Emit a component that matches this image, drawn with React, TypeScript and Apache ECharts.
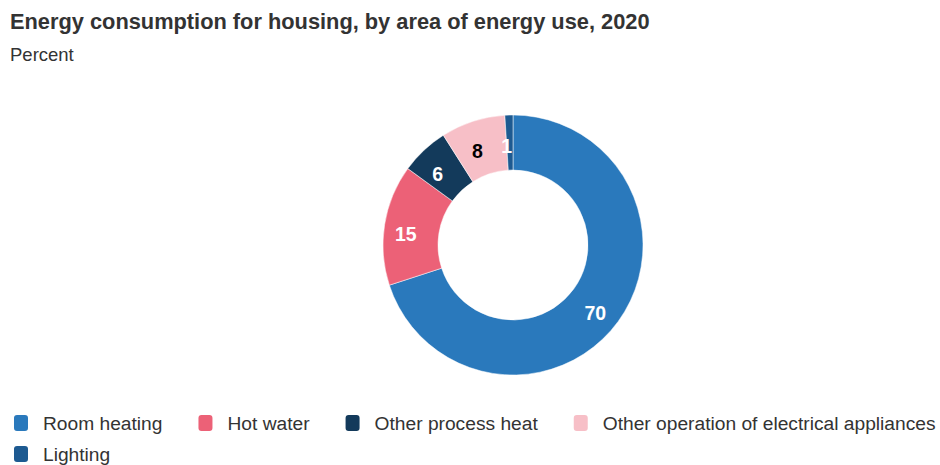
import React, { useEffect, useRef } from "react";
import * as echarts from "echarts";

const categories = [
  "Room heating",
  "Hot water",
  "Other process heat",
  "Other operation of electrical appliances",
  "Lighting",
];
const values = [70, 15, 6, 8, 1];
const colors = ["#2a79bc", "#ec6177", "#133a5b", "#f7bfc7", "#1d5a91"];
const labelColors = ["#ffffff", "#ffffff", "#ffffff", "#000000", "#ffffff"];

export default function App() {
  const ref = useRef<HTMLDivElement>(null);
  useEffect(() => {
    document.body.style.margin = "0";
    if (!ref.current) return;
    const chart = echarts.init(ref.current, null, { renderer: "svg" });
    const font = "'Liberation Sans', Arial, Helvetica, sans-serif";
    chart.setOption({
      animation: false,
      textStyle: { fontFamily: font },
      title: {
        text: "Energy consumption for housing, by area of energy use, 2020",
        subtext: "Percent",
        left: 10,
        top: 10,
        padding: 0,
        itemGap: 13,
        textStyle: { fontSize: 21.8, fontWeight: "bold", color: "#333333", fontFamily: font },
        subtextStyle: { fontSize: 18.5, color: "#333333", fontFamily: font },
      },
      legend: {
        left: 12,
        top: 412,
        width: 960,
        padding: 0,
        itemWidth: 16,
        itemHeight: 18,
        itemGap: 9,
        icon: "roundRect",
        textStyle: {
          fontSize: 19.2,
          color: "#333333",
          fontFamily: font,
          lineHeight: 22,
          padding: [0, 25, 0, 9],
        },
        data: categories,
      },
      series: [
        {
          type: "pie",
          center: [513, 245],
          radius: [75, 130],
          startAngle: 90,
          clockwise: true,
          avoidLabelOverlap: false,
          itemStyle: { borderColor: "#ffffff", borderWidth: 0.5 },
          label: {
            show: true,
            position: "inside",
            fontSize: 19.5,
            fontWeight: "bold",
            fontFamily: font,
            offset: [-3, 6],
          },
          labelLine: { show: false },
          data: categories.map((name, i) => ({
            name,
            value: values[i],
            itemStyle: { color: colors[i] },
            label: { color: labelColors[i], formatter: String(values[i]) },
          })),
        },
      ],
    });
    return () => chart.dispose();
  }, []);
  return <div ref={ref} style={{ width: 940, height: 465 }} />;
}
